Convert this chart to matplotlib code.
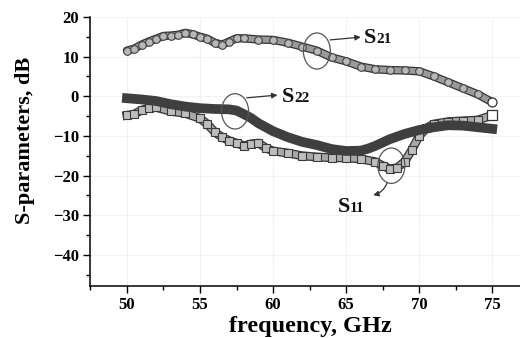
import matplotlib
matplotlib.use("Agg")
import matplotlib.pyplot as plt
from matplotlib.patches import Ellipse
from matplotlib.ticker import MultipleLocator
import matplotlib.patheffects as pe

# ---- data ----
s21_f = [50.0, 50.5, 51.0, 51.5, 52.0, 52.5, 53.0, 53.5, 54.0, 54.5, 55.0, 55.5, 56.0, 56.5,
         57.0, 57.5, 58.0, 59.0, 60.0, 61.0, 62.0, 63.0, 64.0, 65.0, 66.0, 67.0, 68.0, 69.0,
         70.0, 71.0, 72.0, 73.0, 74.0, 75.0]
s21_db = [11.5, 12.0, 13.0, 13.8, 14.5, 15.2, 15.3, 15.5, 16.0, 15.6, 15.0, 14.5, 13.5, 13.0,
          13.8, 14.6, 14.6, 14.3, 14.2, 13.5, 12.5, 11.5, 9.8, 8.8, 7.5, 6.8, 6.6, 6.5,
          6.3, 5.0, 3.5, 2.0, 0.5, -1.5]

s22_f = [50.0, 51.0, 52.0, 53.0, 54.0, 55.0, 56.0, 57.0, 57.5, 58.0, 58.5, 59.0, 59.5, 60.0,
         61.0, 62.0, 63.0, 64.0, 65.0, 66.0, 66.5, 67.0, 68.0, 69.0, 70.0, 71.0, 72.0, 73.0,
         74.0, 75.0]
s22_db = [-0.5, -0.8, -1.2, -2.0, -2.6, -3.0, -3.2, -3.3, -3.6, -4.5, -5.5, -6.8, -7.8, -8.8,
          -10.3, -11.5, -12.3, -13.3, -13.8, -13.7, -13.2, -12.5, -10.8, -9.5, -8.5, -7.8, -7.3, -7.4,
          -7.8, -8.2]

s11_f = [50.0, 50.5, 51.0, 51.5, 52.0, 53.0, 54.0, 55.0, 55.5, 56.0, 56.5, 57.0, 57.5, 58.0,
         58.5, 59.0, 59.5, 60.0, 61.0, 62.0, 63.0, 64.0, 65.0, 66.0, 67.0, 67.5, 68.0, 68.5,
         69.0, 69.5, 70.0, 70.5, 71.0, 72.0, 73.0, 74.0, 75.0]
s11_db = [-4.8, -4.5, -3.5, -3.0, -2.8, -3.8, -4.3, -5.6, -7.0, -9.0, -10.3, -11.2, -11.8, -12.5,
          -12.0, -11.8, -13.0, -13.8, -14.3, -15.0, -15.3, -15.5, -15.5, -15.8, -16.5, -17.5, -18.3, -18.0,
          -16.5, -13.5, -10.0, -8.0, -7.0, -6.4, -6.2, -6.0, -4.8]

x_ticks = [50, 55, 60, 65, 70, 75]
y_ticks = [-40, -30, -20, -10, 0, 10, 20]

serif = ["Liberation Serif", "DejaVu Serif"]

fig = plt.figure(figsize=(5.2, 3.38), dpi=100)
ax = fig.add_axes([0.173, 0.154, 0.827, 0.796])

ax.set_xlim(47.47, 76.9)
ax.set_ylim(-47.8, 20)

ax.grid(True, color="#f2f2f2", lw=0.8)
ax.set_axisbelow(True)

# S21: circles
ax.plot(s21_f, s21_db, color="#9a9a9a", lw=4.2, solid_capstyle="round", zorder=3,
        path_effects=[pe.Stroke(linewidth=6.0, foreground="#333333"), pe.Normal()])
ax.plot(s21_f, s21_db, ls="none", marker="o", ms=5.5, mfc="#b8b8b8", mec="#444444", mew=0.8, zorder=4)
ax.plot(s21_f[-1:], s21_db[-1:], ls="none", marker="o", ms=6.5, mfc="white", mec="#333333", mew=0.9, zorder=5)

# S11: grey squares
ax.plot(s11_f, s11_db, color="#a8a8a8", lw=4.6, zorder=3,
        path_effects=[pe.Stroke(linewidth=6.4, foreground="#333333"), pe.Normal()])
ax.plot(s11_f, s11_db, ls="none", marker="s", ms=5.8, mfc="#bdbdbd", mec="#3a3a3a", mew=0.8, zorder=4)
ax.plot(s11_f[-1:], s11_db[-1:], ls="none", marker="s", ms=6.5, mfc="white", mec="#333333", mew=0.9, zorder=5)

# S22: dark thick band
ax.plot(s22_f, s22_db, color="#3f3f3f", lw=7.0, zorder=6, solid_joinstyle="round")

# annotations
def ell(cx, cy, w, h):
    e = Ellipse((cx, cy), w, h, fill=False, ec="#555555", lw=0.9, zorder=8)
    ax.add_patch(e)

ell(63.0, 11.4, 1.85, 9.1)
ell(57.4, -3.8, 1.85, 8.9)
ell(68.1, -17.5, 1.85, 8.9)

arrow = dict(arrowstyle="-|>", color="#333333", lw=0.9, mutation_scale=8, shrinkA=0, shrinkB=0)
ax.annotate("", xy=(66.0, 14.9), xytext=(63.9, 14.2), arrowprops=arrow, zorder=9)
ax.annotate("", xy=(60.3, 0.3), xytext=(58.2, -0.4), arrowprops=arrow, zorder=9)
ax.annotate("", xy=(66.85, -24.9), xytext=(67.8, -21.9),
            arrowprops=dict(arrowstyle="-|>", color="#333333", lw=0.9, mutation_scale=8,
                            shrinkA=0, shrinkB=0, connectionstyle="arc3,rad=-0.25"), zorder=9)

def label(x, y, sub):
    t = ax.text(x, y, "S", fontsize=16, fontweight="bold", family=serif,
                ha="left", va="baseline", color="#111111", zorder=9)
    fig.canvas.draw()
    bb = t.get_window_extent()
    xd = ax.transData.inverted().transform((bb.x1 + 0.5, 0))[0]
    ax.text(xd, y, sub, fontsize=11, fontweight="bold", family=serif,
            ha="left", va="baseline", color="#111111", zorder=9)

label(66.2, 13.4, "21")
label(60.6, -1.5, "22")
label(64.4, -29.2, "11")

ax.set_xticks(x_ticks)
ax.set_yticks(y_ticks)
ax.xaxis.set_minor_locator(MultipleLocator(2.5))
ax.yaxis.set_minor_locator(MultipleLocator(5))
ax.tick_params(which="major", direction="out", length=5, width=1, labelsize=12, pad=3)
ax.tick_params(which="minor", direction="out", length=3, width=1)

for lab in ax.get_xticklabels() + ax.get_yticklabels():
    lab.set_fontfamily(serif)
    lab.set_fontweight("bold")

ax.spines["top"].set_visible(False)
ax.spines["right"].set_visible(False)
for s in ("left", "bottom"):
    ax.spines[s].set_linewidth(1.1)

ax.set_xlabel("frequency, GHz", fontsize=17.5, fontweight="bold", family=serif)
ax.set_ylabel("S-parameters, dB", fontsize=16, fontweight="bold", family=serif)
ax.xaxis.set_label_coords(0.512, -0.112)
ax.yaxis.set_label_coords(-0.128, 0.54)

fig.savefig("out.png", dpi=100)
